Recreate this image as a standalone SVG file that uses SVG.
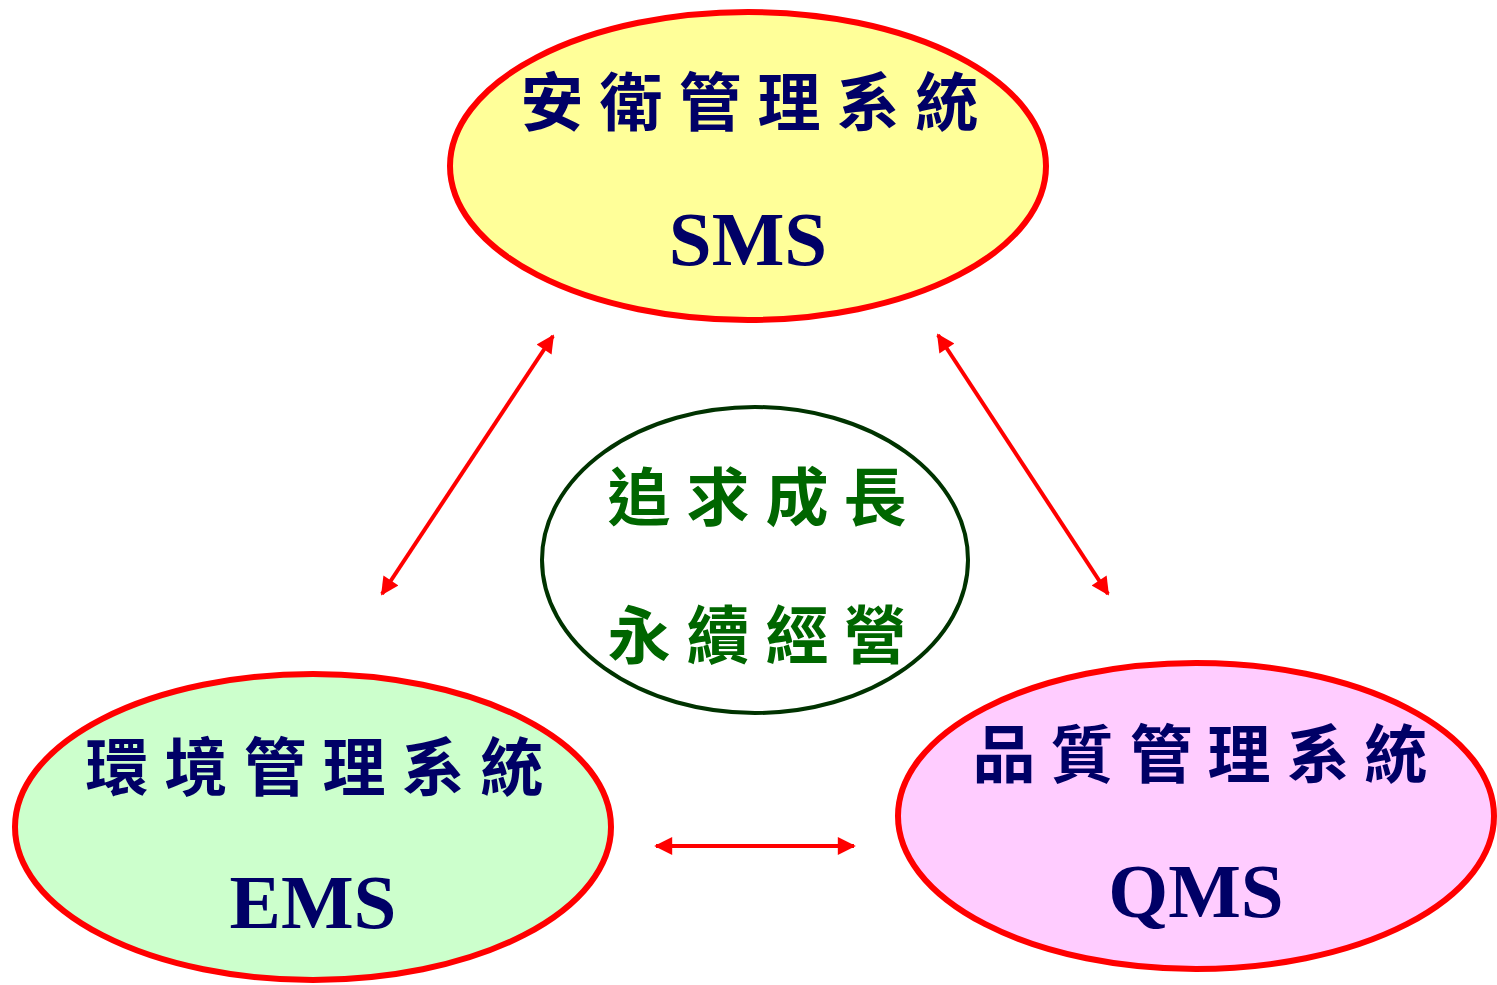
<svg xmlns="http://www.w3.org/2000/svg" width="1497" height="985" viewBox="0 0 1497 985">
<style>
.node{stroke:#FF0000;stroke-width:6}
.cjk{font-family:"Noto Sans CJK TC","Noto Sans CJK SC",sans-serif;font-size:63px;font-weight:bold;fill:#000066;text-anchor:middle}
.green{fill:#006600}
.lat{font-family:"Liberation Serif",serif;font-size:77px;font-weight:bold;fill:#000066;text-anchor:middle}
.conn{stroke:#FF0000;stroke-width:4;fill:none;marker-start:url(#ah);marker-end:url(#ah)}
</style>
<defs>
<marker id="ah" viewBox="0 0 10 10" refX="9" refY="5" markerWidth="5" markerHeight="4.5" orient="auto-start-reverse" markerUnits="strokeWidth">
<path d="M0,0 L10,5 L0,10 Z" fill="#FF0000"/>
</marker>
</defs>
<rect width="1497" height="985" fill="#FFFFFF"/>
<g id="sms">
<ellipse class="node" cx="748" cy="166" rx="298" ry="154" fill="#FFFF99"/>
<text class="cjk" x="552 631 710 789 868 947" y="125">安衛管理系統</text>
<text class="lat" x="748" y="265">SMS</text>
</g>
<g id="ems">
<ellipse class="node" cx="313" cy="827" rx="298" ry="153" fill="#CCFFCC"/>
<text class="cjk" x="117 196 275 354 433 512" y="790">環境管理系統</text>
<text class="lat" x="313" y="928">EMS</text>
</g>
<g id="qms">
<ellipse class="node" cx="1196" cy="816" rx="298" ry="153" fill="#FFCCFF"/>
<text class="cjk" x="1004 1082 1161 1239 1318 1396" y="777">品質管理系統</text>
<text class="lat" x="1196" y="917">QMS</text>
</g>
<g id="center">
<ellipse cx="755" cy="560" rx="213" ry="153" fill="#FFFFFF" stroke="#003300" stroke-width="4"/>
<text class="cjk green" x="639 718 797 875" y="520">追求成長</text>
<text class="cjk green" x="639 718 797 875" y="658">永續經營</text>
</g>
<g id="connectors">
<line class="conn" x1="553" y1="336" x2="382" y2="594"/>
<line class="conn" x1="938" y1="335" x2="1108" y2="594"/>
<line class="conn" x1="656" y1="846" x2="854" y2="846"/>
</g>
</svg>
